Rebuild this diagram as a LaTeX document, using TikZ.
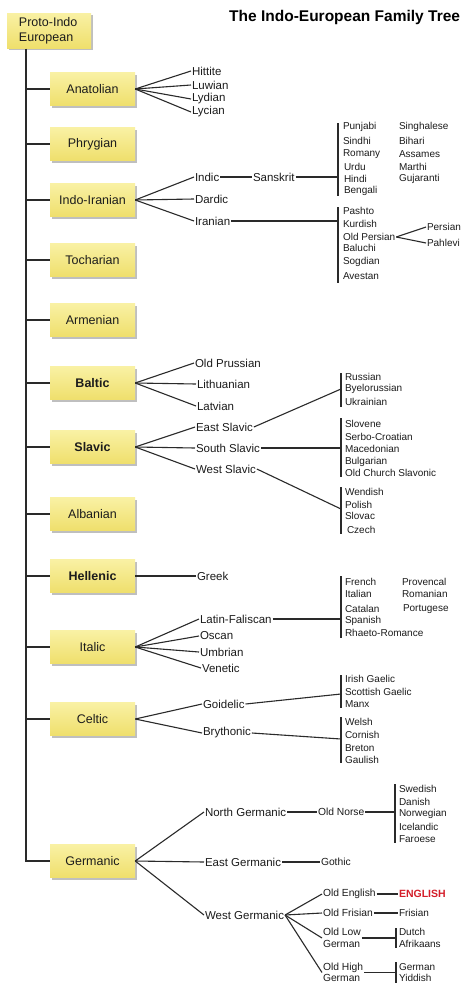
\documentclass[tikz,border=0pt]{standalone}
\usepackage{fontspec}
\setmainfont{Liberation Sans}
\usetikzlibrary{shadows}
\definecolor{noteT}{HTML}{F9F1A4}
\definecolor{noteB}{HTML}{EFDF6C}
\definecolor{linec}{HTML}{2A2A2A}
\definecolor{ink}{HTML}{1C1C1C}
\definecolor{engred}{HTML}{D41E2A}
\tikzset{
  fam/.style={draw=none, top color=noteT, bottom color=noteB, minimum width=85pt, minimum height=33pt,
    inner sep=0pt, text=ink, font=\fontsize{12.5}{14}\selectfont,
    drop shadow={shadow xshift=2pt, shadow yshift=-2pt, fill=black!55, opacity=0.45}},
  famb/.style={fam, font=\fontsize{12.5}{14}\selectfont\bfseries},
  lab/.style={anchor=west, inner sep=0.8pt, text=ink, font=\fontsize{11.5}{13}\selectfont},
  sub/.style={anchor=west, inner sep=0.8pt, text=ink, font=\fontsize{10.3}{12}\selectfont},
  leaf/.style={anchor=west, inner sep=0.8pt, text=ink, font=\fontsize{10}{12}\selectfont},
  ln/.style={draw=linec, line width=1.1pt},
  br/.style={draw=linec, line width=1.4pt},
}
\begin{document}
\begin{tikzpicture}[x=1pt,y=-1pt]
\useasboundingbox (0,0) rectangle (474,1001);
\fill[white] (0,0) rectangle (474,1001);

% title
\node[anchor=west, inner sep=0pt, text=black, font=\fontsize{15.5}{17}\selectfont\bfseries] (title) at (229,17) {The Indo-European Family Tree};

% root
\node[fam, minimum width=84pt, minimum height=35pt, align=left, text width=60pt, font=\fontsize{12.5}{15}\selectfont] (proto) at (49,30.5) {Proto-Indo\\European};
\coordinate (top) at (26,48.5);

% families
\node[fam]  (anat) at (92.5,89)  {Anatolian};
\node[fam]  (phry) at (92.5,144) {Phrygian};
\node[fam]  (indo) at (92.5,200) {Indo-Iranian};
\node[fam]  (toch) at (92.5,260) {Tocharian};
\node[fam]  (arme) at (92.5,320) {Armenian};
\node[famb] (balt) at (92.5,383) {Baltic};
\node[famb] (slav) at (92.5,447) {Slavic};
\node[fam]  (alba) at (92.5,514) {Albanian};
\node[famb] (hell) at (92.5,576) {Hellenic};
\node[fam]  (ital) at (92.5,647) {Italic};
\node[fam]  (celt) at (92.5,719) {Celtic};
\node[fam]  (germ) at (92.5,861) {Germanic};

% trunk
\draw[ln, line width=1.3pt] (top) -- (germ.west -| top) -- (germ.west);
\foreach \f in {anat,phry,indo,toch,arme,balt,slav,alba,hell,ital,celt}
  \draw[ln] (\f.west -| top) -- (\f.west);

% Anatolian
\node[lab] (hitt) at (191,71)  {Hittite};
\node[lab] (luwi) at (191,85)  {Luwian};
\node[lab] (lydi) at (191,99)  {Lydian};
\node[lab] (lyci) at (191,112) {Lycian};
\foreach \n in {hitt,luwi,lydi,lyci} \draw[ln] (anat.east) -- (\n.west);

% Indo-Iranian
\node[lab] (indic) at (194,177) {Indic};
\node[lab] (dard)  at (194,199) {Dardic};
\node[lab] (iran)  at (194,221) {Iranian};
\foreach \n in {indic,dard,iran} \draw[ln] (indo.east) -- (\n.west);
\node[lab] (sansk) at (252,177) {Sanskrit};
\draw[ln] (indic.east) -- (sansk.west);
\coordinate (skt) at (338,123); \coordinate (skb) at (338,196);
\draw[br] (skt) -- (skb);
\draw[ln] (sansk.east) -- (sansk.east -| skt);
\node[leaf] (punj) at (342,127) {Punjabi};
\node[leaf] (sind) at (342,141) {Sindhi};
\node[leaf] (roma) at (342,154) {Romany};
\node[leaf] (urdu) at (343,167) {Urdu};
\node[leaf] (hind) at (343,179) {Hindi};
\node[leaf] (beng) at (343,191) {Bengali};
\node[leaf] (sing) at (398,127) {Singhalese};
\node[leaf] (biha) at (398,141) {Bihari};
\node[leaf] (assa) at (398,154) {Assames};
\node[leaf] (mart) at (398,167) {Marthi};
\node[leaf] (guja) at (398,179) {Gujaranti};
\coordinate (irt) at (338,207); \coordinate (irb) at (338,283);
\draw[br] (irt) -- (irb);
\draw[ln] (iran.east) -- (iran.east -| irt);
\node[leaf] (pash) at (342,211) {Pashto};
\node[leaf] (kurd) at (342,224) {Kurdish};
\node[leaf] (olpe) at (342,237) {Old Persian};
\node[leaf] (balu) at (342,248) {Baluchi};
\node[leaf] (sogd) at (342,262) {Sogdian};
\node[leaf] (aves) at (342,276) {Avestan};
\node[leaf] (pers) at (426,227) {Persian};
\node[leaf] (pahl) at (426,243) {Pahlevi};
\draw[ln] (olpe.east) -- (pers.west);
\draw[ln] (olpe.east) -- (pahl.west);

% Baltic
\node[lab] (olpr) at (194,363) {Old Prussian};
\node[lab] (lith) at (196,384) {Lithuanian};
\node[lab] (latv) at (196,406) {Latvian};
\foreach \n in {olpr,lith,latv} \draw[ln] (balt.east) -- (\n.west);

% Slavic
\node[lab] (eslv) at (195,427) {East Slavic};
\node[lab] (sslv) at (195,448) {South Slavic};
\node[lab] (wslv) at (195,469) {West Slavic};
\foreach \n in {eslv,sslv,wslv} \draw[ln] (slav.east) -- (\n.west);
\coordinate (est) at (341,373); \coordinate (esb) at (341,407); \coordinate (esm) at (341,389);
\draw[br] (est) -- (esb);
\draw[ln] (eslv.east) -- (esm);
\node[leaf] (russ) at (344,377) {Russian};
\node[leaf] (byel) at (344,389) {Byelorussian};
\node[leaf] (ukra) at (344,402) {Ukrainian};
\coordinate (sst) at (341,418); \coordinate (ssb) at (341,477);
\draw[br] (sst) -- (ssb);
\draw[ln] (sslv.east) -- (sslv.east -| sst);
\node[leaf] (slov) at (344,424) {Slovene};
\node[leaf] (serb) at (344,437) {Serbo-Croatian};
\node[leaf] (mace) at (344,449) {Macedonian};
\node[leaf] (bulg) at (344,462) {Bulgarian};
\node[leaf] (ocsl) at (344,473) {Old Church Slavonic};
\coordinate (wst) at (341,487); \coordinate (wsb) at (341,534); \coordinate (wsm) at (341,509);
\draw[br] (wst) -- (wsb);
\draw[ln] (wslv.east) -- (wsm);
\node[leaf] (wend) at (344,492) {Wendish};
\node[leaf] (poli) at (344,505) {Polish};
\node[leaf] (slvc) at (344,516) {Slovac};
\node[leaf] (czec) at (346,530) {Czech};

% Hellenic
\node[lab] (gree) at (196,576) {Greek};
\draw[ln] (hell.east) -- (gree.west);

% Italic
\node[lab] (lafa) at (199,619) {Latin-Faliscan};
\node[lab] (osca) at (199,636) {Oscan};
\node[lab] (umbr) at (199,652) {Umbrian};
\node[lab] (vene) at (201,668) {Venetic};
\foreach \n in {lafa,osca,umbr,vene} \draw[ln] (ital.east) -- (\n.west);
\coordinate (lft) at (341,576); \coordinate (lfb) at (341,638);
\draw[br] (lft) -- (lfb);
\draw[ln] (lafa.east) -- (lafa.east -| lft);
\node[leaf] (fren) at (344,582) {French};
\node[leaf] (ital2) at (344,594) {Italian};
\node[leaf] (cata) at (344,609) {Catalan};
\node[leaf] (span) at (344,621) {Spanish};
\node[leaf] (rhae) at (344,633) {Rhaeto-Romance};
\node[leaf] (prov) at (401,582) {Provencal};
\node[leaf] (roma2) at (401,594) {Romanian};
\node[leaf] (port) at (402,609) {Portugese};

% Celtic
\node[lab] (goid) at (202,704) {Goidelic};
\node[lab] (bryt) at (202,733) {Brythonic};
\foreach \n in {goid,bryt} \draw[ln] (celt.east) -- (\n.west);
\coordinate (gdt) at (341,675); \coordinate (gdb) at (341,708); \coordinate (gdm) at (341,694);
\draw[br] (gdt) -- (gdb);
\draw[ln] (goid.east) -- (gdm);
\node[leaf] (iris) at (344,679) {Irish Gaelic};
\node[leaf] (scot) at (344,692) {Scottish Gaelic};
\node[leaf] (manx) at (344,704) {Manx};
\coordinate (byt) at (341,717); \coordinate (byb) at (341,763); \coordinate (bym) at (341,739);
\draw[br] (byt) -- (byb);
\draw[ln] (bryt.east) -- (bym);
\node[leaf] (wels) at (344,722) {Welsh};
\node[leaf] (corn) at (344,735) {Cornish};
\node[leaf] (bret) at (344,748) {Breton};
\node[leaf] (gaul) at (344,760) {Gaulish};

% Germanic
\node[lab] (ngrm) at (204,812) {North Germanic};
\node[lab] (egrm) at (204,862) {East Germanic};
\node[lab] (wgrm) at (204,915) {West Germanic};
\foreach \n in {ngrm,egrm,wgrm} \draw[ln] (germ.east) -- (\n.west);
\node[sub] (onor) at (317,812) {Old Norse};
\draw[ln] (ngrm.east) -- (onor.west);
\coordinate (nrt) at (395,784); \coordinate (nrb) at (395,843);
\draw[br] (nrt) -- (nrb);
\draw[ln] (onor.east) -- (onor.east -| nrt);
\node[leaf] (swed) at (398,789) {Swedish};
\node[leaf] (dani) at (398,802) {Danish};
\node[leaf] (norw) at (398,814) {Norwegian};
\node[leaf] (icel) at (398,827) {Icelandic};
\node[leaf] (faro) at (398,839) {Faroese};
\node[sub] (goth) at (320,862) {Gothic};
\draw[ln] (egrm.east) -- (goth.west);
\node[sub] (oeng) at (322,894) {Old English};
\node[sub] (ofri) at (322,913) {Old Frisian};
\node[sub, align=left, font=\fontsize{10.3}{12}\selectfont] (olow) at (322,938) {Old Low\\German};
\node[sub, align=left, font=\fontsize{10.3}{11.5}\selectfont] (ohig) at (322,972.5) {Old High\\German};
\foreach \n in {oeng,ofri,olow,ohig} \draw[ln] (wgrm.east) -- (\n.west);
\node[anchor=west, inner sep=0.8pt, text=engred, font=\fontsize{10.5}{12}\selectfont\bfseries] (engl) at (398,894) {ENGLISH};
\draw[ln] (oeng.east) -- (engl.west);
\node[leaf] (fris) at (398,913) {Frisian};
\draw[ln] (ofri.east) -- (fris.west);
\coordinate (lgt) at (396,928); \coordinate (lgb) at (396,948);
\draw[br] (lgt) -- (lgb);
\draw[ln] (olow.east) -- (olow.east -| lgt);
\node[leaf] (dutc) at (398,932) {Dutch};
\node[leaf] (afri) at (398,944) {Afrikaans};
\coordinate (hgt) at (396,962); \coordinate (hgb) at (396,983);
\draw[br] (hgt) -- (hgb);
\draw[ln] (ohig.east) -- (ohig.east -| hgt);
\node[leaf] (germn) at (398,967) {German};
\node[leaf] (yidd) at (398,978) {Yiddish};
\end{tikzpicture}
\end{document}
